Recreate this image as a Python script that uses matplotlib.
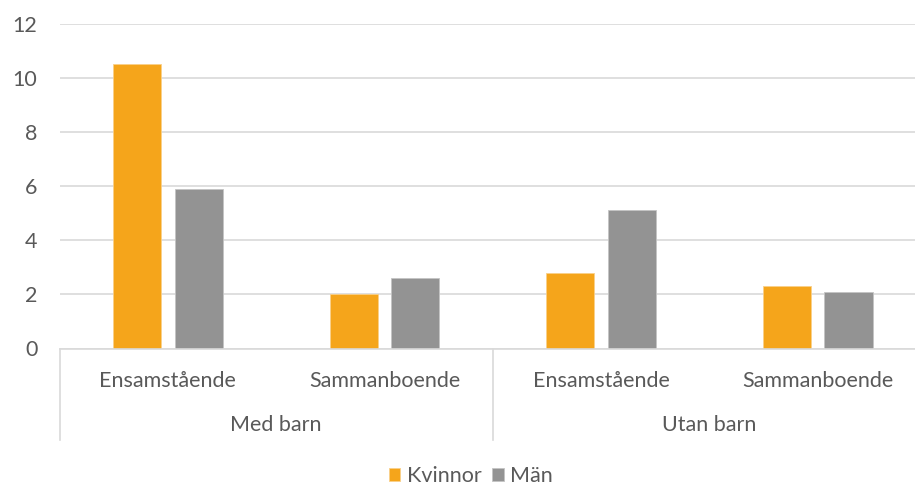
import matplotlib.pyplot as plt
import matplotlib.transforms as mtransforms
import numpy as np

plt.rcParams['font.family'] = ['Lato', 'DejaVu Sans']

# data
groups = ['Med barn', 'Utan barn']
subcats = ['Ensamstående', 'Sammanboende', 'Ensamstående', 'Sammanboende']
kvinnor = [10.5, 2.0, 2.8, 2.3]
man = [5.9, 2.6, 5.1, 2.1]
yticks = [0, 2, 4, 6, 8, 10, 12]

orange = '#F5A51B'
grey = '#939393'
grid_col = '#D9D9D9'
text_col = '#595959'
fs = 15.5

W, H = 915, 487
fig = plt.figure(figsize=(W / 100, H / 100), dpi=100)
left, right, top, bottom = 59.6, 926, 23.5, 348.5
ax = fig.add_axes([left / W, 1 - bottom / H, (right - left) / W, (bottom - top) / H])

x = np.arange(len(subcats)) + 0.5
bw = 0.223
off = 0.142
ax.bar(x - off, kvinnor, width=bw, color=orange, edgecolor='#F9D08A', linewidth=0.6,
       label='Kvinnor', zorder=3)
ax.bar(x + off, man, width=bw, color=grey, edgecolor='#C4C4C4', linewidth=0.6,
       label='Män', zorder=3)

ax.set_xlim(0, len(subcats))
ax.set_ylim(0, 12)
ax.set_yticks(yticks)
ax.set_yticklabels([str(v) for v in yticks], fontsize=fs, color=text_col)
ax.tick_params(axis='y', length=0, pad=16)
ax.yaxis.grid(True, color=grid_col, linewidth=1.2, zorder=0)
ax.set_axisbelow(True)
for s in ['top', 'right', 'left']:
    ax.spines[s].set_visible(False)
ax.spines['bottom'].set_color(grid_col)
ax.spines['bottom'].set_linewidth(1.2)
ax.spines['bottom'].set_zorder(4)
ax.set_xticks([])

# sub-category and group labels, separators
trans = mtransforms.blended_transform_factory(ax.transData, ax.transAxes)
px = 1 / (bottom - top)
for xi, lab in zip(x, subcats):
    ax.text(xi, -(381 - bottom) * px, lab, transform=trans, ha='center', va='center',
            fontsize=fs, color=text_col)
for i, g in enumerate(groups):
    ax.text(2 * i + 1, -(425 - bottom) * px, g, transform=trans, ha='center', va='center',
            fontsize=fs, color=text_col)
for xs in [0, 2, 4]:
    ax.plot([xs, xs], [0, -(440 - bottom) * px], transform=trans, color=grid_col,
            linewidth=1.2, clip_on=False)

fig.legend(loc='center', bbox_to_anchor=(471 / W, 1 - 476 / H), ncol=2, frameon=False,
           handlelength=0.52, handleheight=0.52, handletextpad=0.3, columnspacing=0.5,
           prop={'size': fs}, labelcolor=text_col)

fig.savefig('out.png', dpi=100)
